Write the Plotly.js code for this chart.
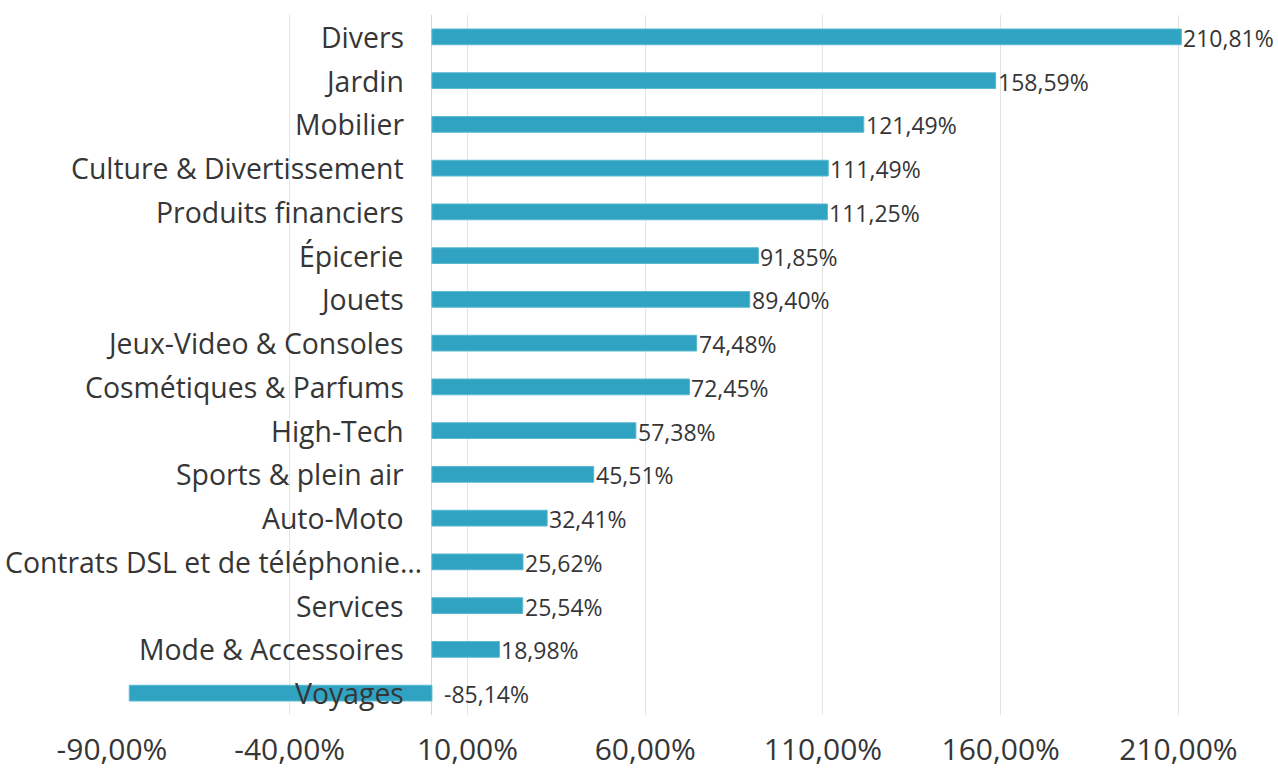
<!DOCTYPE html>
<html>
<head>
<meta charset="utf-8">
<script src="https://cdn.plot.ly/plotly-3.0.1.min.js"></script>
<style>html,body{margin:0;padding:0;background:#fff;}#chart{width:1278px;height:772px;}</style>
</head>
<body>
<div id="chart"></div>
<script>
const categories = ["Divers","Jardin","Mobilier","Culture & Divertissement","Produits financiers","Épicerie","Jouets","Jeux-Video & Consoles","Cosmétiques & Parfums","High-Tech","Sports & plein air","Auto-Moto","Contrats DSL et de téléphonie…","Services","Mode & Accessoires","Voyages"];
const values = [210.81,158.59,121.49,111.49,111.25,91.85,89.40,74.48,72.45,57.38,45.51,32.41,25.62,25.54,18.98,-85.14];
const tickValues = [-90,-40,10,60,110,160,210];

const barColor = '#2FA3C1';
const textColor = '#363636';
const fontFamily = '"Open Sans", "DejaVu Sans", sans-serif';

function fmt(v){ return v.toFixed(2).replace('.', ',') + '%'; }
const tickLabels = tickValues.map(fmt);

const annotations = [];
categories.forEach((c,i)=>{
  const truncated = c.endsWith('…');
  annotations.push({x:0, y:c, xref:'x', yref:'y', text:c, showarrow:false, xanchor:'right', yanchor:'middle', xshift: truncated ? -8 : -26,
    font:{family:fontFamily, size:28.4, color:textColor}});
  const v = values[i];
  annotations.push({x:Math.max(v,0), y:c, xref:'x', yref:'y', text:fmt(v), showarrow:false, xanchor:'left', yanchor:'middle', xshift: v<0 ? 10 : 0, yshift:-1,
    font:{family:fontFamily, size:23, color:textColor}});
});

const trace = {
  type:'bar', orientation:'h', x:values, y:categories,
  marker:{color:barColor, line:{color:'#5BB9D2', width:1}},
  cliponaxis:false, hoverinfo:'skip'
};

const layout = {
  width:1278, height:772,
  margin:{l:112, r:96, t:15, b:57},
  paper_bgcolor:'#fff', plot_bgcolor:'#fff',
  showlegend:false,
  bargap:0.64,
  xaxis:{range:[-90,211], tickvals:tickValues, ticktext:tickLabels,
    showgrid:true, gridcolor:'#e4e4e4', gridwidth:1,
    zeroline:true, zerolinecolor:'#d6d6d6', zerolinewidth:1,
    showline:false, ticks:'', ticklabelstandoff:14,
    tickfont:{family:fontFamily, size:30, color:textColor}, fixedrange:true},
  yaxis:{type:'category', autorange:'reversed', showticklabels:false, showgrid:false, zeroline:false, showline:false, ticks:'', fixedrange:true},
  annotations:annotations
};

Plotly.newPlot('chart', [trace], layout, {displayModeBar:false, staticPlot:true});
</script>
</body>
</html>
